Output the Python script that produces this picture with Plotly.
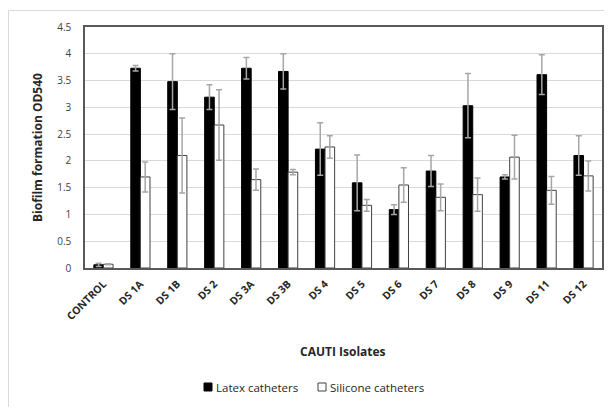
import plotly.graph_objects as go

categories = ["CONTROL", "DS 1A", "DS 1B", "DS 2", "DS 3A", "DS 3B", "DS 4", "DS 5",
              "DS 6", "DS 7", "DS 8", "DS 9", "DS 11", "DS 12"]
latex = [0.06, 3.73, 3.48, 3.19, 3.73, 3.67, 2.22, 1.59, 1.09, 1.81, 3.03, 1.70, 3.61, 2.10]
latex_err = [0.03, 0.05, 0.52, 0.23, 0.20, 0.33, 0.49, 0.52, 0.09, 0.29, 0.60, 0.04, 0.37, 0.37]
silicone = [0.07, 1.70, 2.10, 2.67, 1.65, 1.79, 2.26, 1.17, 1.55, 1.32, 1.37, 2.07, 1.45, 1.72]
silicone_err = [0.01, 0.28, 0.70, 0.66, 0.20, 0.05, 0.21, 0.11, 0.32, 0.25, 0.31, 0.41, 0.26, 0.28]
y_ticks = [0, 0.5, 1, 1.5, 2, 2.5, 3, 3.5, 4, 4.5]
series_names = ["Latex catheters", "Silicone catheters"]

FONT = "Open Sans"
err_color = "#a6a6a6"

fig = go.Figure()
fig.add_trace(go.Bar(
    x=categories, y=latex, name=series_names[0], showlegend=False,
    marker=dict(color="black", line=dict(color="black", width=1)),
    error_y=dict(type="data", array=latex_err, visible=True, color=err_color,
                 thickness=1.5, width=3),
))
fig.add_trace(go.Bar(
    x=categories, y=silicone, name=series_names[1], showlegend=False,
    marker=dict(color="white", line=dict(color="#404040", width=1)),
    error_y=dict(type="data", array=silicone_err, visible=True, color=err_color,
                 thickness=1.5, width=3),
))

# the page body has an 8px margin, so the figure is sized to fit the window
OFF = 8
W, H = 612 - OFF, 407 - OFF
# plot area in page coordinates: x 85..602, y 27..268
L = 85 - OFF
T = 27 - OFF
R = W - (602 - OFF)
B = H - (268 - OFF)
pw, ph = W - L - R, H - T - B

def px(xp):  # page x -> paper
    return (xp - OFF - L) / pw

def py(yp):  # page y -> paper
    return (H - B - (yp - OFF)) / ph

# outer chart border
fig.add_shape(type="rect", xref="paper", yref="paper",
              x0=px(8.5), x1=px(640), y0=py(10.5), y1=py(440),
              line=dict(color="#d9d9d9", width=1), layer="above")

fig.add_annotation(text="<b>CAUTI Isolates</b>", xref="paper", yref="paper",
                   x=px(343), y=py(351), xanchor="center", yanchor="middle",
                   showarrow=False,
                   font=dict(family=FONT, size=12, color="#262626"))
fig.add_annotation(text="<b>Biofilm formation OD540</b>", xref="paper", yref="paper",
                   x=px(37), y=py(148), xanchor="center", yanchor="middle",
                   showarrow=False, textangle=-90,
                   font=dict(family=FONT, size=12, color="#262626"))

# legend
leg_y = 387
leg_items = [(204, "black", "black"), (318, "white", "#404040")]
for (lx, fill, edge), name in zip(leg_items, series_names):
    fig.add_shape(type="rect", xref="paper", yref="paper",
                  x0=px(lx), x1=px(lx + 8), y0=py(leg_y + 4), y1=py(leg_y - 4),
                  fillcolor=fill, line=dict(color=edge, width=1), layer="above")
    fig.add_annotation(text=name, xref="paper", yref="paper",
                       x=px(lx + 10), y=py(leg_y), xanchor="left", yanchor="middle",
                       showarrow=False,
                       font=dict(family=FONT, size=11.5, color="#262626"))

fig.update_layout(
    width=W, height=H,
    margin=dict(l=L, r=R, t=T, b=B, autoexpand=False),
    paper_bgcolor="white", plot_bgcolor="white",
    barmode="group", bargap=0.48, bargroupgap=0.0,
    font=dict(family=FONT, size=10, color="#404040"),
    showlegend=False,
    xaxis=dict(
        tickangle=-45, tickfont=dict(family=FONT, size=10.5, color="#262626"),
        showline=True, linecolor="#595959", linewidth=1.5, mirror=True,
        ticks="", tickprefix="<b>", ticksuffix="</b>", automargin=False,
        ticklabelstandoff=4,
    ),
    yaxis=dict(
        range=[0, 4.5], tickvals=y_ticks, ticktext=[f"{v:g}" for v in y_ticks],
        showgrid=True, gridcolor="#d9d9d9", gridwidth=1,
        showline=True, linecolor="#595959", linewidth=1.5, mirror=True,
        ticks="", zeroline=False, automargin=False, ticklabelstandoff=10,
        tickfont=dict(family=FONT, size=10, color="#404040"),
    ),
)

fig.write_html("out.html")
